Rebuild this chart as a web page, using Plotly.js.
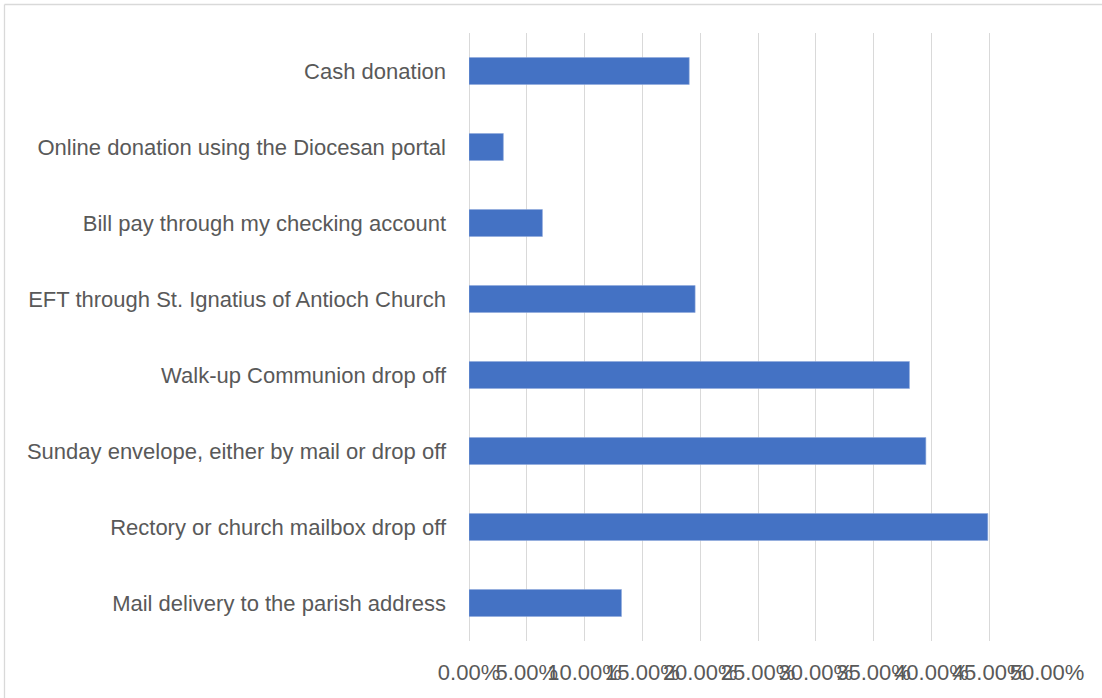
<!DOCTYPE html>
<html>
<head>
<meta charset="utf-8">
<script src="https://cdn.plot.ly/plotly-3.0.1.min.js"></script>
<style>
html,body{margin:0;padding:0;background:#fff;}
#chart{width:1102px;height:698px;}
</style>
</head>
<body>
<div id="chart"></div>
<script>
// Categories listed bottom to top
var categories = [
  "Mail delivery to the parish address",
  "Rectory or church mailbox drop off",
  "Sunday envelope, either by mail or drop off",
  "Walk-up Communion drop off",
  "EFT through St. Ignatius of Antioch Church",
  "Bill pay through my checking account",
  "Online donation using the Diocesan portal",
  "Cash donation"
];
var shares = [0.1319, 0.4488, 0.3952, 0.3810, 0.1956, 0.0635, 0.0297, 0.1905];
var xTickValues = [0, 0.05, 0.10, 0.15, 0.20, 0.25, 0.30, 0.35, 0.40, 0.45, 0.50];

var FONT = "'Liberation Sans', Arial, sans-serif";

var trace = {
  type: "bar",
  orientation: "h",
  y: categories,
  x: shares,
  marker: {color: "#4472C4", line: {color: "#8FAADC", width: 0.6}},
  hoverinfo: "x+y"
};

var layout = {
  width: 1102,
  height: 698,
  paper_bgcolor: "#ffffff",
  plot_bgcolor: "#ffffff",
  margin: {l: 469, r: 55, t: 33, b: 57, pad: 0},
  showlegend: false,
  bargap: 0.645,
  font: {family: FONT, size: 22, color: "#595959"},
  xaxis: {
    range: [0, 0.5],
    tickvals: xTickValues,
    tickformat: ".2%",
    tickangle: 0,
    showgrid: true,
    gridcolor: "#d9d9d9",
    gridwidth: 1.3,
    zeroline: true,
    zerolinecolor: "#d9d9d9",
    zerolinewidth: 1.3,
    showline: false,
    ticks: "",
    ticklabelstandoff: 16,
    tickfont: {family: FONT, size: 22, color: "#595959"},
    fixedrange: true
  },
  yaxis: {
    type: "category",
    categoryorder: "array",
    categoryarray: categories,
    showgrid: false,
    zeroline: false,
    showline: false,
    ticks: "",
    ticklabelstandoff: 22,
    tickfont: {family: FONT, size: 22, color: "#595959"},
    fixedrange: true
  },
  shapes: [
    {type: "line", xref: "paper", yref: "paper",
     x0: (4.5 - 469) / 578, x1: (4.5 - 469) / 578,
     y0: (641 - 698) / 608, y1: (641 - 4.5) / 608,
     line: {color: "#d9d9d9", width: 1.3}},
    {type: "line", xref: "paper", yref: "paper",
     x0: (4.5 - 469) / 578, x1: (1102 - 469) / 578,
     y0: (641 - 4.5) / 608, y1: (641 - 4.5) / 608,
     line: {color: "#d9d9d9", width: 1.3}}
  ]
};

Plotly.newPlot("chart", [trace], layout, {displayModeBar: false, responsive: false});
</script>
</body>
</html>
